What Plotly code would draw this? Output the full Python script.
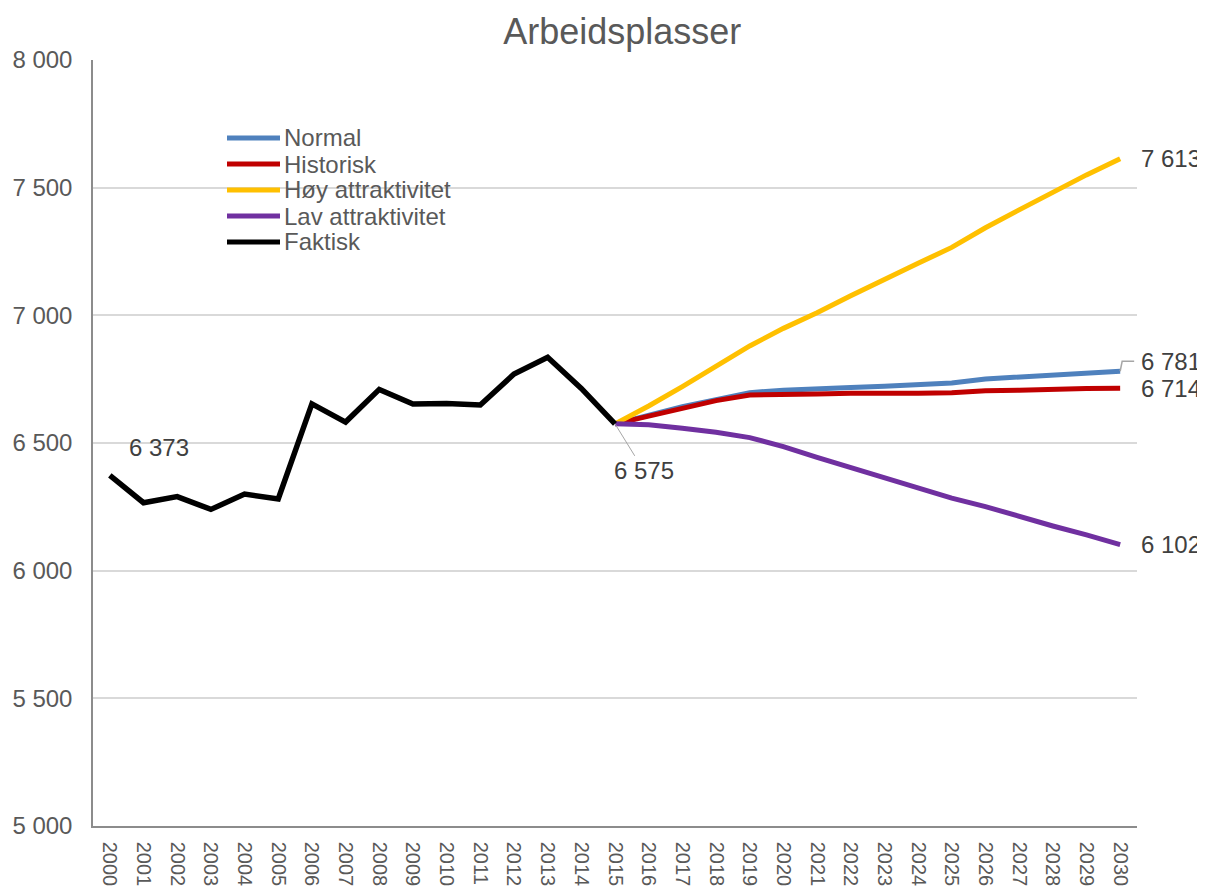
import plotly.graph_objects as go

# data
years_hist = list(range(2000, 2016))
years_proj = list(range(2015, 2031))

faktisk = [6373, 6266, 6290, 6240, 6300, 6281, 6653, 6582, 6710, 6653,
           6655, 6649, 6770, 6836, 6714, 6575]
normal = [6575, 6610, 6642, 6670, 6697, 6707, 6710, 6717, 6722, 6729,
          6735, 6751, 6758, 6767, 6773, 6781]
historisk = [6575, 6607, 6639, 6666, 6688, 6692, 6692, 6695, 6693, 6695,
             6697, 6705, 6707, 6711, 6713, 6714]
hoy = [6575, 6645, 6721, 6799, 6880, 6949, 7010, 7077, 7138, 7204,
       7266, 7343, 7413, 7484, 7550, 7613]
lav = [6575, 6571, 6558, 6542, 6521, 6486, 6444, 6403, 6362, 6323,
       6284, 6251, 6212, 6175, 6140, 6102]

y_ticks = [5000, 5500, 6000, 6500, 7000, 7500, 8000]
y_ticktext = ["5 000", "5 500", "6 000", "6 500", "7 000", "7 500", "8 000"]

GREY = "#595959"
LABEL = "#404040"
FONT = "Liberation Sans, Arial, sans-serif"

series = [
    ("Normal", years_proj, normal, "#4f81bd", 5),
    ("Historisk", years_proj, historisk, "#c00000", 5),
    ("Høy attraktivitet", years_proj, hoy, "#ffc000", 5),
    ("Lav attraktivitet", years_proj, lav, "#7030a0", 5),
    ("Faktisk", years_hist, faktisk, "#000000", 5.5),
]

fig = go.Figure()
for name, xs, ys, col, w in series:
    fig.add_trace(go.Scatter(x=xs, y=ys, mode="lines", name=name,
                             line=dict(color=col, width=w), showlegend=False))

# hand-drawn legend (Excel style: tight rows, long line keys)
# plot area on screen: x 93..1137, y 60..826
def px(x):
    return (x - 93) / 1044


def py(y):
    return (826 - y) / 766


for i, (name, _, _, col, w) in enumerate(series):
    yy = py(138 + 26 * i)
    fig.add_shape(type="line", xref="paper", yref="paper", x0=px(227), x1=px(280),
                  y0=yy, y1=yy, line=dict(color=col, width=5))
    fig.add_annotation(xref="paper", yref="paper", x=px(282), y=yy, text=name,
                       showarrow=False, xanchor="left", yanchor="middle",
                       font=dict(size=24, color=GREY))


def fmt(v):
    return f"{v:,}".replace(",", " ")


# end-of-line labels
for ys, ysh in [(hoy, 0), (normal, 10), (historisk, 0), (lav, 0)]:
    fig.add_annotation(x=2030, y=ys[-1], text=fmt(ys[-1]), showarrow=False,
                       xshift=51, yshift=ysh, font=dict(size=24, color=LABEL))

fig.add_annotation(x=2000, y=faktisk[0], text=fmt(faktisk[0]), showarrow=False,
                   xshift=49, yshift=28, font=dict(size=24, color=LABEL))
fig.add_annotation(x=2015, y=faktisk[-1], text=fmt(faktisk[-1]), showarrow=True,
                   arrowhead=0, arrowwidth=1, arrowcolor="#a6a6a6", ax=29, ay=47,
                   font=dict(size=24, color=LABEL))

# small bent leader for the Normal label
fig.add_shape(type="path", xref="x", yref="y", xsizemode="pixel", ysizemode="pixel",
              xanchor=2030, yanchor=normal[-1], path="M0,0 L2,10 L14,10",
              line=dict(color="#a6a6a6", width=1.5))

fig.update_layout(
    width=1205, height=893,
    margin=dict(l=85, r=76, t=52, b=75),
    paper_bgcolor="white", plot_bgcolor="white",
    font=dict(family=FONT, size=24, color=GREY),
    title=dict(text="Arbeidsplasser", xref="paper", x=0.507, xanchor="center",
               y=1 - 23 / 893, yanchor="middle", font=dict(size=36, color=GREY)),
    showlegend=False,
)
fig.update_xaxes(range=[1999.5, 2030.5], tickmode="linear", tick0=2000, dtick=1,
                 tickangle=90, automargin=False, showgrid=False,
                 showline=True, linecolor="#8c8c8c", linewidth=1.5,
                 tickfont=dict(size=20, color=GREY), ticklabelstandoff=10)
fig.update_yaxes(range=[5000, 8000], tickvals=y_ticks, ticktext=y_ticktext,
                 automargin=False, showgrid=True, gridcolor="#d9d9d9", gridwidth=1.5,
                 showline=True, linecolor="#8c8c8c", linewidth=1.5, zeroline=False,
                 tickfont=dict(size=24, color=GREY), ticklabelstandoff=14)

fig.write_html("out.html")
